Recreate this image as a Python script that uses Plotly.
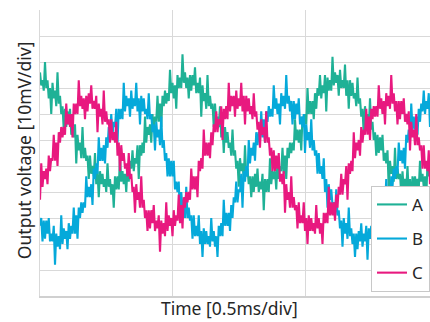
import plotly.graph_objects as go

# Oscilloscope capture (mV), 10 mV/div vertical, 0.5 ms/div horizontal
A = [86, 81, 83, 79, 90, 80, 83, 76, 80, 70, 82, 76, 79, 73, 86, 74, 77, 70, 73, 64,
     72, 65, 71, 66, 72, 62, 65, 61, 66, 51, 62, 56, 59, 53, 65, 53, 57, 52, 54, 45,
     54, 47, 50, 46, 55, 43, 48, 38, 48, 43, 47, 42, 45, 40, 51, 42, 45, 39, 43, 34,
     46, 41, 46, 41, 54, 44, 48, 43, 47, 40, 50, 44, 52, 49, 56, 48, 53, 51, 58, 45,
     58, 54, 59, 55, 69, 59, 65, 62, 66, 59, 70, 64, 69, 67, 77, 67, 74, 65, 77, 73,
     79, 74, 78, 75, 87, 78, 82, 76, 81, 72, 85, 80, 84, 80, 93, 82, 86, 80, 84, 76,
     85, 79, 85, 81, 88, 78, 82, 78, 84, 69, 81, 75, 78, 72, 85, 73, 77, 72, 74, 65,
     74, 66, 69, 65, 73, 61, 66, 55, 65, 59, 63, 57, 59, 54, 64, 54, 56, 49, 52, 42,
     53, 48, 51, 45, 58, 46, 49, 43, 46, 38, 46, 40, 47, 42, 49, 40, 44, 41, 47, 33,
     45, 40, 45, 40, 53, 43, 48, 45, 48, 41, 52, 45, 50, 48, 57, 47, 54, 45, 57, 53,
     59, 55, 59, 56, 68, 60, 64, 59, 64, 56, 69, 65, 70, 66, 80, 70, 75, 70, 75, 68,
     78, 72, 80, 77, 85, 76, 81, 78, 85, 71, 84, 79, 83, 79, 92, 81, 86, 82, 85, 77,
     87, 80, 83, 80, 89, 77, 83, 72, 83, 77, 82, 76, 78, 73, 84, 74, 76, 69, 72, 62,
     73, 67, 70, 64, 76, 64, 67, 60, 63, 54, 62, 55, 61, 56, 62, 52, 55, 51, 56, 41,
     52, 47, 50, 44, 57, 45, 49, 45, 47, 39, 48, 41, 45, 41, 50, 39, 45, 35, 46, 41,
     46, 41, 45, 41, 52, 44, 47, 42, 46, 38, 51, 46, 51]
B = [27, 30, 21, 29, 22, 29, 24, 30, 21, 24, 21, 27, 12, 24, 19, 23, 18, 31, 20, 26,
     22, 25, 18, 28, 22, 27, 24, 34, 24, 31, 22, 34, 30, 36, 32, 36, 34, 46, 38, 42,
     38, 43, 35, 49, 45, 51, 47, 61, 52, 57, 52, 58, 51, 61, 57, 65, 62, 70, 62, 67,
     65, 72, 59, 72, 68, 72, 68, 82, 71, 77, 73, 76, 69, 79, 72, 76, 73, 82, 71, 76,
     66, 77, 71, 76, 70, 72, 68, 78, 68, 70, 63, 66, 56, 67, 61, 64, 58, 69, 57, 60,
     52, 55, 46, 53, 46, 52, 46, 52, 41, 44, 40, 44, 29, 40, 34, 36, 30, 42, 30, 34,
     29, 31, 22, 31, 23, 27, 23, 31, 20, 25, 15, 26, 20, 25, 20, 23, 19, 30, 21, 25,
     19, 23, 15, 27, 23, 28, 23, 37, 27, 32, 27, 32, 25, 35, 30, 38, 36, 44, 36, 41,
     40, 47, 34, 48, 44, 50, 46, 60, 51, 57, 54, 59, 52, 63, 58, 63, 61, 71, 61, 68,
     59, 71, 67, 73, 69, 72, 69, 81, 72, 76, 70, 74, 66, 78, 73, 77, 72, 85, 74, 77,
     71, 75, 66, 75, 68, 74, 70, 76, 66, 69, 65, 70, 55, 66, 60, 63, 57, 68, 56, 60,
     54, 56, 47, 55, 47, 50, 45, 53, 40, 45, 34, 43, 37, 41, 35, 36, 31, 41, 31, 33,
     26, 29, 19, 30, 24, 28, 22, 34, 23, 26, 20, 24, 15, 24, 18, 25, 21, 28, 19, 24,
     21, 27, 14, 26, 22, 27, 22, 36, 26, 32, 29, 33, 26, 37, 31, 36, 35, 45, 35, 42,
     34, 46, 42, 49, 45, 50, 47, 59, 52, 56, 51, 57, 49, 62, 59, 64, 60, 74, 64, 69,
     64, 69, 62, 72, 67, 74, 71, 79, 70, 75, 72, 78, 65]
C = [37, 51, 42, 48, 45, 49, 43, 54, 48, 53, 52, 62, 52, 59, 50, 63, 59, 65, 61, 65,
     62, 74, 66, 70, 65, 70, 61, 74, 70, 74, 70, 83, 73, 77, 72, 76, 68, 77, 71, 78,
     74, 81, 72, 75, 72, 77, 63, 74, 69, 72, 66, 79, 67, 71, 66, 68, 59, 68, 60, 63,
     59, 67, 54, 59, 48, 58, 52, 55, 49, 51, 46, 55, 45, 47, 40, 42, 32, 43, 37, 40,
     34, 46, 34, 37, 30, 33, 25, 33, 26, 33, 28, 35, 25, 29, 26, 31, 17, 29, 24, 28,
     23, 36, 25, 31, 27, 30, 23, 33, 27, 31, 29, 39, 28, 35, 26, 38, 34, 40, 36, 40,
     37, 49, 41, 46, 41, 46, 38, 52, 48, 53, 49, 64, 54, 59, 54, 59, 53, 63, 58, 66,
     63, 71, 63, 68, 66, 73, 60, 72, 68, 73, 68, 82, 71, 77, 73, 77, 69, 79, 72, 76,
     73, 82, 71, 77, 66, 77, 71, 76, 70, 73, 68, 78, 69, 71, 64, 67, 57, 68, 62, 65,
     59, 71, 59, 61, 54, 57, 48, 56, 48, 54, 49, 55, 44, 47, 43, 48, 32, 43, 37, 40,
     34, 46, 34, 38, 33, 35, 26, 36, 28, 31, 28, 36, 25, 30, 20, 31, 25, 30, 25, 28,
     24, 35, 26, 30, 24, 28, 20, 32, 28, 32, 28, 42, 31, 36, 31, 36, 29, 39, 34, 42,
     39, 47, 39, 45, 43, 50, 37, 51, 47, 52, 48, 63, 53, 59, 56, 60, 54, 65, 59, 64,
     62, 72, 62, 69, 60, 72, 68, 73, 69, 73, 69, 81, 72, 76, 70, 75, 66, 78, 73, 77,
     72, 85, 74, 78, 71, 75, 66, 75, 68, 75, 70, 76, 67, 70, 66, 71, 56, 67, 61, 64,
     58, 70, 58, 61, 56, 58, 49, 58, 49, 52, 48, 56, 43]

SERIES_NAMES = ["A", "B", "C"]
COLORS = ["#1fb196", "#05a9da", "#e8197f"]

DT_MS = 0.5 / 106         # sampling interval [ms]
MS_PER_DIV = 0.5
MV_PER_DIV = 10
Y_MAX_MV = 110
X_SPAN_MS = 1.4717        # visible time window

time_ms = [i * DT_MS for i in range(len(A))]

fig = go.Figure()
for name, ys, col in zip(SERIES_NAMES, [A, B, C], COLORS):
    fig.add_trace(go.Scatter(
        x=time_ms, y=ys, mode="lines", name=name, legendgroup=name,
        line=dict(color=col, width=2.1),
    ))

FONT = "Noto Sans"
TXT = "#262626"
fig.update_layout(
    width=430, height=322,
    margin=dict(l=40, r=0, t=10, b=26),
    paper_bgcolor="white", plot_bgcolor="white",
    font=dict(family=FONT, size=16, color=TXT),
    showlegend=True,
    legend=dict(
        x=1.0, y=0.385, xanchor="right", yanchor="top",
        bgcolor="white", bordercolor="#c8c8c8", borderwidth=1,
        font=dict(family=FONT, size=17, color=TXT),
        tracegroupgap=9, itemwidth=30,
    ),
    xaxis=dict(
        range=[0, X_SPAN_MS], dtick=MS_PER_DIV, tick0=0,
        showticklabels=False, ticks="", showgrid=True, gridcolor="#d9d9d9", gridwidth=1,
        zeroline=False, showline=True, linecolor="#d0d0d0", linewidth=1.5,
    ),
    yaxis=dict(
        range=[0, Y_MAX_MV], dtick=MV_PER_DIV, tick0=0,
        showticklabels=False, ticks="", showgrid=True, gridcolor="#d9d9d9", gridwidth=1,
        zeroline=False, showline=True, linecolor="#d9d9d9", linewidth=1,
    ),
    annotations=[
        dict(text="Output voltage [10mV/div]", xref="paper", yref="paper",
             x=-0.041, y=0.51, xanchor="center", yanchor="middle", textangle=-90,
             showarrow=False, font=dict(family=FONT, size=17.5, color=TXT)),
        dict(text="Time [0.5ms/div]", xref="paper", yref="paper",
             x=0.485, y=-0.0909, xanchor="center", yanchor="bottom",
             showarrow=False, font=dict(family=FONT, size=17.5, color=TXT)),
    ],
)

fig.write_html("out.html", config={"displayModeBar": False},
               post_script="document.body.style.margin='0';document.body.style.overflow='hidden';")
